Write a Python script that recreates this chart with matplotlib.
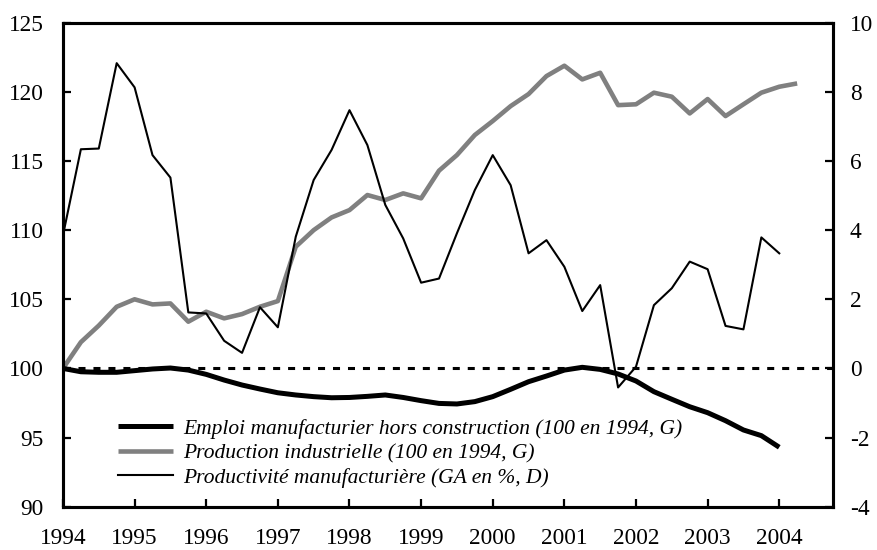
import numpy as np
import matplotlib
matplotlib.use('Agg')
import matplotlib.pyplot as plt
from matplotlib.ticker import MultipleLocator

# quarterly points, 1994Q1 .. 2004Q2
quarters = np.arange(1994, 2004.26, 0.25)

emploi = [100.0, 99.76, 99.72, 99.72, 99.84, 99.96, 100.03, 99.88, 99.57, 99.16,
          98.80, 98.51, 98.24, 98.08, 97.96, 97.88, 97.90, 97.98, 98.08, 97.90,
          97.67, 97.47, 97.43, 97.60, 97.96, 98.49, 99.04, 99.45, 99.88, 100.08,
          99.93, 99.60, 99.09, 98.32, 97.77, 97.23, 96.80, 96.22, 95.55, 95.14,
          94.30]

production = [100.0, 101.9, 103.1, 104.46, 105.0, 104.63, 104.7, 103.38, 104.1, 103.62,
              103.93, 104.46, 104.87, 108.8, 110.0, 110.92, 111.45, 112.54, 112.18, 112.66,
              112.3, 114.3, 115.43, 116.88, 117.89, 118.97, 119.84, 121.14, 121.89, 120.9,
              121.38, 119.04, 119.1, 119.94, 119.65, 118.44, 119.48, 118.25, 119.1, 119.94,
              120.37, 120.61]

productivite = [3.85, 6.34, 6.36, 8.83, 8.13, 6.17, 5.52, 1.62, 1.59, 0.80,
                0.45, 1.77, 1.19, 3.81, 5.45, 6.32, 7.47, 6.46, 4.73, 3.76,
                2.48, 2.60, 3.91, 5.16, 6.17, 5.30, 3.33, 3.71, 2.94, 1.66,
                2.41, -0.55, 0.05, 1.83, 2.32, 3.09, 2.87, 1.23, 1.13, 3.79,
                3.33]

labels = ['Emploi manufacturier hors construction (100 en 1994, G)',
          'Production industrielle (100 en 1994, G)',
          'Productivité manufacturière (GA en %, D)']

plt.rcParams['font.family'] = ['Liberation Serif', 'DejaVu Serif']
plt.rcParams['axes.unicode_minus'] = False

fig = plt.figure(figsize=(8.77, 5.5), dpi=100)
ax = fig.add_axes([0.0718, 0.0787, 0.878, 0.88])
ax2 = ax.twinx()

l1, = ax.plot(quarters[:len(emploi)], emploi, color='black', lw=3.6,
              solid_capstyle='butt', zorder=3)
l2, = ax.plot(quarters[:len(production)], production, color='#808080', lw=3.3,
              solid_capstyle='butt', zorder=2)
ax.axhline(100, color='black', lw=2.2, ls=(0, (2.3, 2.6)), zorder=1)
l3, = ax2.plot(quarters[:len(productivite)], productivite, color='black', lw=1.5)

ax.set_xlim(1994, 2004.75)
ax.set_ylim(90, 125)
ax2.set_ylim(-4, 10)
ax.set_xticks(range(1994, 2005))
ax.yaxis.set_major_locator(MultipleLocator(5))
ax2.yaxis.set_major_locator(MultipleLocator(2))

for a in (ax, ax2):
    for s in a.spines.values():
        s.set_linewidth(2.2)
ax.tick_params(axis='both', direction='in', length=6, width=1.6, labelsize=16.8)
ax.tick_params(axis='x', pad=15.5)
ax.tick_params(axis='y', pad=14)
ax2.tick_params(axis='y', direction='in', length=6, width=1.6, labelsize=16.8, pad=12)

ax.legend([l1, l2, l3], labels, loc='upper left', bbox_to_anchor=(0.071, 0.182),
          frameon=False, prop={'style': 'italic', 'size': 15.5}, borderpad=0,
          borderaxespad=0, handlelength=2.56, handletextpad=0.47, labelspacing=0.21)

fig.savefig('out.png', dpi=100)
